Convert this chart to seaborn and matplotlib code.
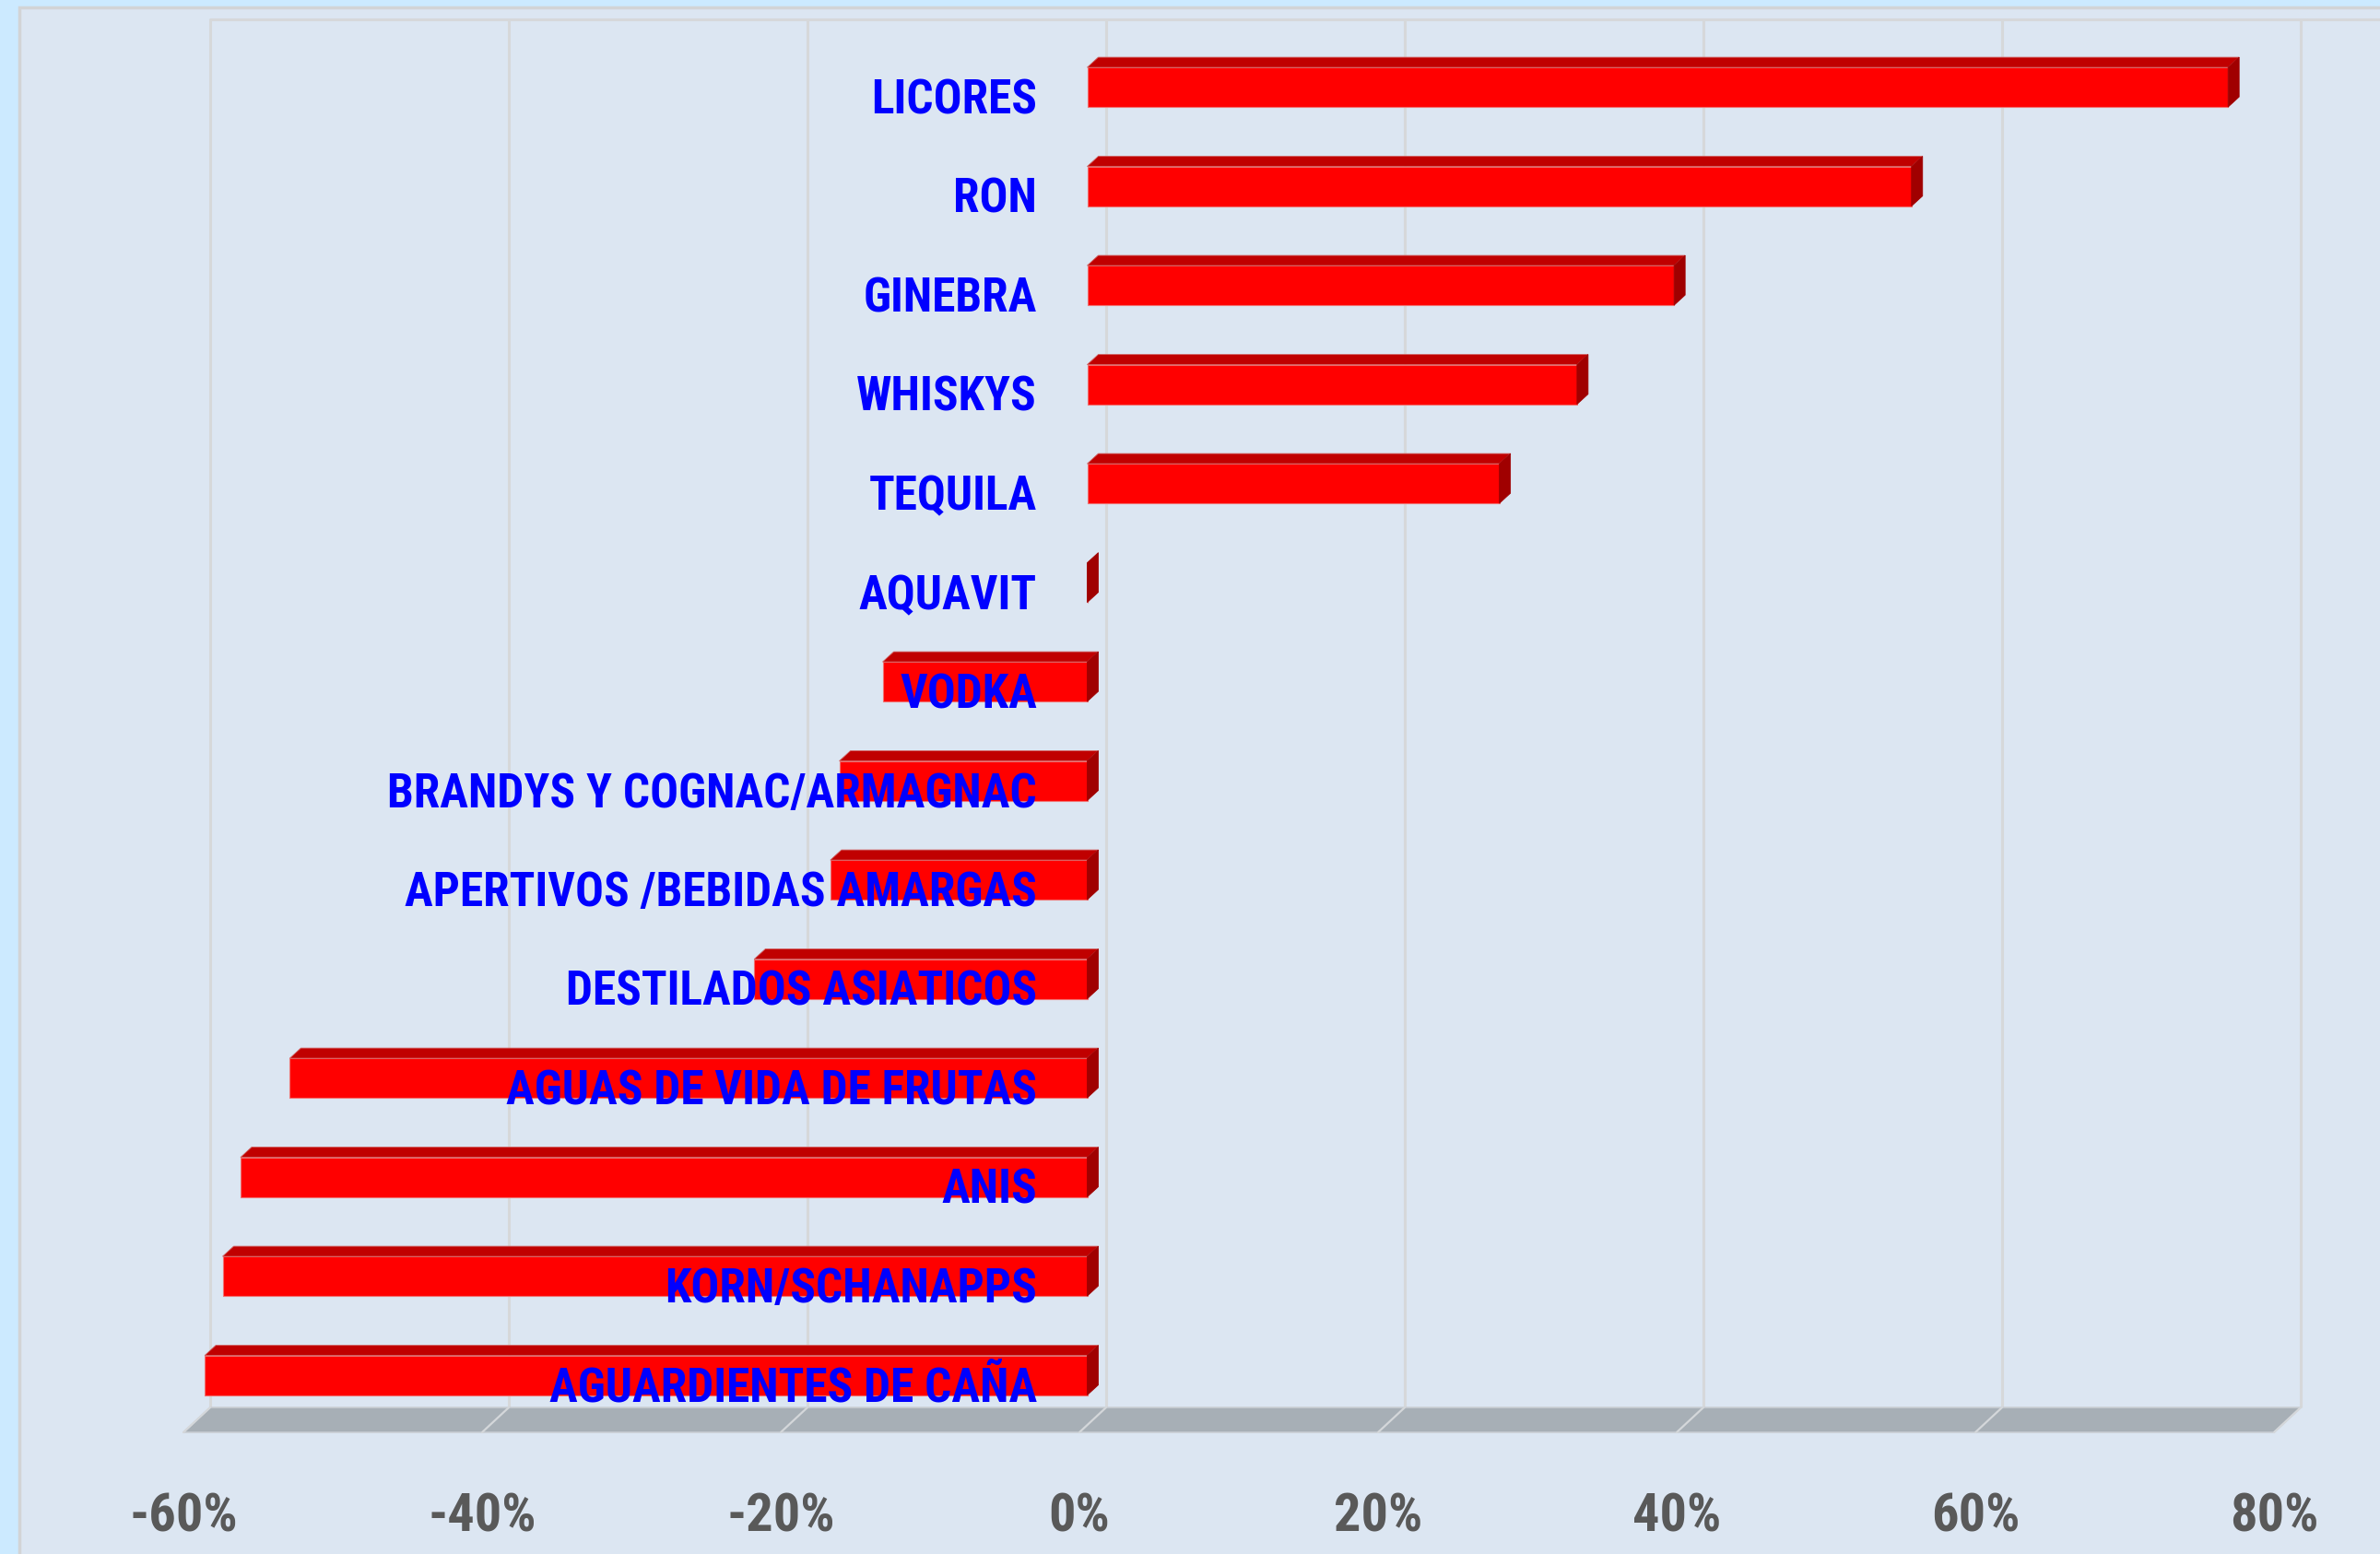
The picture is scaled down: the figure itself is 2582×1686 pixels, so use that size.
import matplotlib
matplotlib.use("Agg")
import matplotlib.pyplot as plt
from matplotlib.patches import Polygon, Rectangle
import seaborn as sns
import pandas as pd

# ---- data ----
categorias = ["LICORES", "RON", "GINEBRA", "WHISKYS", "TEQUILA", "AQUAVIT", "VODKA",
              "BRANDYS Y COGNAC/ARMAGNAC", "APERTIVOS /BEBIDAS AMARGAS",
              "DESTILADOS ASIATICOS", "AGUAS DE VIDA DE FRUTAS", "ANIS",
              "KORN/SCHANAPPS", "AGUARDIENTES DE CAÑA"]
valores = [76.4, 55.2, 39.3, 32.8, 27.6, 0.0, -13.7, -16.6, -17.2, -22.3,
           -53.4, -56.7, -57.9, -59.1]
ticks = [-60, -40, -20, 0, 20, 40, 60, 80]
tick_labels = ["-60%", "-40%", "-20%", "0%", "20%", "40%", "60%", "80%"]

df = pd.DataFrame({"categoria": categorias, "valor": valores})

# ---- figure ----
W, H, DPI = 2582, 1686, 100
sns.set_theme(style="white")
plt.rcParams["font.family"] = ["Roboto Condensed", "Roboto", "DejaVu Sans"]
plt.rcParams["font.stretch"] = "condensed"

fig = plt.figure(figsize=(W / DPI, H / DPI), dpi=DPI)
fig.patch.set_facecolor("#CCEAFF")
fig.patches.append(Rectangle((21 / W, -0.01), 1.0, (H - 8) / H + 0.01,
                             transform=fig.transFigure, facecolor="#DCE6F2",
                             edgecolor="#D2D4D6", linewidth=2.5, zorder=-5))

# axes in the "front plane" coordinate frame
x_left_px, x_right_px = 207.5, 2475.5
top_px = 21
ax = fig.add_axes([x_left_px / W, 0, (x_right_px - x_left_px) / W, 1 - top_px / H])
ax.set_facecolor("none")
ax.set_zorder(2)
for s in ax.spines.values():
    s.set_visible(False)

sns.barplot(data=df, x="valor", y="categoria", orient="h", color="#FF0000",
            saturation=1, width=0.4, ax=ax, edgecolor="#F07070", linewidth=0.8, zorder=3)

px_x = (x_right_px - x_left_px) / 140.0   # px per %
px_y = 107.5                             # px per category
y0_px = 94.6
ax.set_xlim(-60, 80)
ax.set_ylim((H - y0_px) / px_y, (top_px - y0_px) / px_y)
ax.set_xticks([]); ax.set_yticks([])
ax.set_xlabel(""); ax.set_ylabel("")

ytop = (top_px - y0_px) / px_y
# wall / floor geometry (data units)
wall_dx = 20.5 / px_x
floor_back = (1527 - y0_px) / px_y
floor_fdx = -29 / px_x
floor_fdy = 27 / px_y

# wall gridlines
for t in ticks:
    ax.plot([t + wall_dx, t + wall_dx], [ytop, floor_back], color="#D6D8DA", lw=2.2,
            zorder=0.5, solid_capstyle="butt", clip_on=False)
ax.plot([ticks[0] + wall_dx, ticks[-1] + wall_dx + 10], [ytop, ytop], color="#D6D8DA",
        lw=2.2, zorder=0.5, clip_on=False)

# floor
xb0, xb1 = ticks[0] + wall_dx, ticks[-1] + wall_dx
ax.add_patch(Polygon([(xb0, floor_back), (xb1, floor_back),
                      (xb1 + floor_fdx, floor_back + floor_fdy),
                      (xb0 + floor_fdx, floor_back + floor_fdy)],
                     closed=True, facecolor="#A7AFB6", edgecolor="#C9CED3", lw=1.2,
                     zorder=1, clip_on=False))
for t in ticks:
    ax.plot([t + wall_dx, t + wall_dx + floor_fdx], [floor_back, floor_back + floor_fdy],
            color="#D4D7DA", lw=1.6, zorder=1.2, clip_on=False)

# 3D faces of bars
ddx = 12 / px_x
ddy = -11 / px_y
bars = [p for p in ax.patches if isinstance(p, Rectangle)][:len(valores)]
for p in bars:
    x0 = p.get_x(); w = p.get_width(); y0 = p.get_y(); h = p.get_height()
    xa, xb = min(x0, x0 + w), max(x0, x0 + w)
    ya = min(y0, y0 + h); yb = max(y0, y0 + h)
    if xb - xa > 0:
        ax.add_patch(Polygon([(xa, ya), (xb, ya), (xb + ddx, ya + ddy), (xa + ddx, ya + ddy)],
                             closed=True, facecolor="#C00000", edgecolor="#D06060",
                             lw=0.6, zorder=3))
    ax.add_patch(Polygon([(xb, ya), (xb, yb), (xb + ddx, yb + ddy), (xb + ddx, ya + ddy)],
                         closed=True, facecolor="#A00000", edgecolor="#A00000",
                         lw=0.6, zorder=3))

# category labels
lab_x = (1125 - x_left_px) / px_x - 60
for i, c in enumerate(categorias):
    ax.text(lab_x, i + 0.268, c, ha="right", va="baseline", color="#0000FF",
            fontsize=37, fontweight="bold", zorder=6)

# x tick labels at floor front edge
lab_y = (1661.7 - y0_px) / px_y
for t, s in zip(ticks, tick_labels):
    ax.text(t + wall_dx + floor_fdx, lab_y, s, ha="center", va="baseline",
            color="#595959", fontsize=42, fontweight="bold", zorder=6, clip_on=False)

fig.savefig("out.png", dpi=DPI, facecolor=fig.get_facecolor())
